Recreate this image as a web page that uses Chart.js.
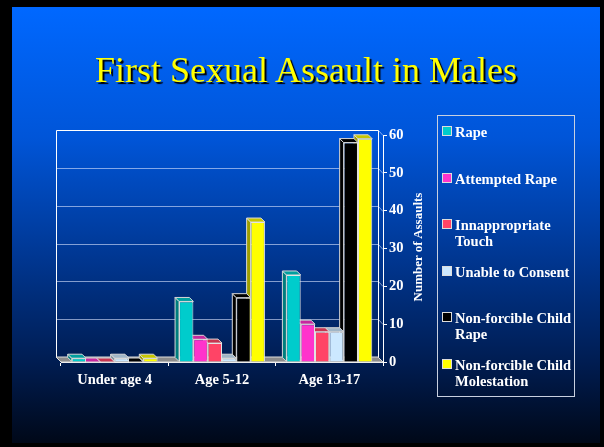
<!DOCTYPE html>
<html>
<head>
<meta charset="utf-8">
<title>First Sexual Assault in Males</title>
<script src="https://cdn.jsdelivr.net/npm/chart.js"></script>
<style>
  html, body { margin: 0; padding: 0; background: #000; }
  body { width: 604px; height: 447px; position: relative; overflow: hidden;
    font-family: "Liberation Serif", "Times New Roman", serif; }
  .slide { position: absolute; left: 12px; top: 7px; width: 588px; height: 436px;
    background: linear-gradient(to bottom, #0068ff 0%, #0055d8 30%, #003690 58%, #001c50 82%, #000818 100%); }
  #wrap { position: absolute; left: 0; top: 0; width: 604px; height: 447px; }
  h1 { position: absolute; left: 12px; top: 52px; width: 588px; margin: 0; text-align: center;
    font-size: 36px; line-height: 1; font-weight: normal; color: #ffff00;
    text-shadow: 2px 2px 1px #000; }
  #legend { position: absolute; left: 437px; top: 115px; width: 138px; height: 282px;
    box-sizing: border-box; border: 1px solid #c8d0e0; }
  #legend .item { position: absolute; left: 4px; width: 130px; }
  #legend .sw { position: absolute; left: 0; top: 2px; width: 8px; height: 8px; border: 1px solid #ddd; }
  #legend .tx { display: block; margin-left: 13px; width: 124px; color: #fff; font-weight: bold;
    font-size: 14.5px; line-height: 16px; }
  #yTitle { position: absolute; left: 418px; top: 247px; transform: translate(-50%, -50%) rotate(-90deg);
    white-space: nowrap; color: #fff; font-weight: bold; font-size: 13px; }
</style>
</head>
<body>
<div class="slide"></div>
<div id="wrap"><canvas id="chartCanvas"></canvas></div>
<h1>First Sexual Assault in Males</h1>
<div id="yTitle">Number of Assaults</div>
<div id="legend"></div>
<script>
const categories = ['Under age 4', 'Age 5-12', 'Age 13-17'];
const rape = [1, 16, 23];
const attemptedRape = [0, 6, 10];
const inappropriateTouch = [0, 5, 8];
const unableToConsent = [1, 1, 8];
const childRape = [0, 17, 58];
const childMolestation = [1, 37, 59];
const seriesNames = ['Rape', 'Attempted Rape', 'Innappropriate Touch', 'Unable to Consent',
  'Non-forcible Child Rape', 'Non-forcible Child Molestation'];
const yTicks = [0, 10, 20, 30, 40, 50, 60];

const colors = ['#00cccc', '#ff33cc', '#ff4466', '#cce8ff', '#000000', '#ffff00'];
const seriesData = [rape, attemptedRape, inappropriateTouch, unableToConsent, childRape, childMolestation];
const DEPTH = 4;   // bar depth
const WALL = 5;    // back wall offset

function shade(hex, f) {
  const n = parseInt(hex.slice(1), 16);
  const r = Math.round(((n >> 16) & 255) * f);
  const g = Math.round(((n >> 8) & 255) * f);
  const b = Math.round((n & 255) * f);
  return `rgb(${r},${g},${b})`;
}

function poly(ctx, pts, fill, stroke) {
  ctx.beginPath();
  ctx.moveTo(pts[0][0], pts[0][1]);
  for (let i = 1; i < pts.length; i++) ctx.lineTo(pts[i][0], pts[i][1]);
  ctx.closePath();
  ctx.fillStyle = fill;
  ctx.fill();
  if (stroke) { ctx.strokeStyle = stroke; ctx.lineWidth = 1; ctx.stroke(); }
}

function line(ctx, x0, y0, x1, y1) {
  ctx.beginPath();
  ctx.moveTo(x0, y0);
  ctx.lineTo(x1, y1);
  ctx.stroke();
}

// back wall, floor and the depth faces of the bars
const threeD = {
  id: 'threeD',
  beforeDatasetsDraw(chart) {
    const { ctx, chartArea: a, scales: { y } } = chart;
    const x0 = Math.round(a.left - WALL) + 0.5, x1 = Math.round(a.right - WALL) + 0.5;
    const top = Math.round(y.getPixelForValue(yTicks[yTicks.length - 1]) - WALL) + 0.5;
    const bottom = Math.round(y.getPixelForValue(0) - WALL) + 0.5;
    ctx.save();
    ctx.lineWidth = 1;
    ctx.strokeStyle = 'rgba(220,230,255,0.6)';
    yTicks.forEach(v => {
      const py = Math.round(y.getPixelForValue(v) - WALL) + 0.5;
      if (v > 0 && v < yTicks[yTicks.length - 1]) line(ctx, x0, py, x1, py);
      line(ctx, x1, py, a.right, py + WALL);
    });
    ctx.strokeStyle = '#ffffff';
    line(ctx, x0, top, x1, top);
    line(ctx, x0, top, x0, bottom);
    line(ctx, x1, top, x1, bottom);
    poly(ctx, [[a.left, a.bottom], [a.right, a.bottom], [a.right - WALL, a.bottom - WALL], [a.left - WALL, a.bottom - WALL]],
      '#8c8c8c', '#dddddd');
    ctx.restore();
  },
  beforeDatasetDraw(chart, args) {
    const { ctx } = chart;
    const color = chart.data.datasets[args.index].backgroundColor;
    ctx.save();
    args.meta.data.forEach(bar => {
      const { x, y, base, width } = bar.getProps(['x', 'y', 'base', 'width'], true);
      const l = x - width / 2, r = x + width / 2;
      poly(ctx, [[l, y], [l - DEPTH, y - DEPTH], [l - DEPTH, base - DEPTH], [l, base]], shade(color, 0.62), '#d8d8d8');
      poly(ctx, [[l, y], [r, y], [r - DEPTH, y - DEPTH], [l - DEPTH, y - DEPTH]], shade(color, 0.78), '#d8d8d8');
    });
    ctx.restore();
  }
};

const labelFont = { family: '"Liberation Serif", "Times New Roman", serif', size: 14.5, weight: 'bold' };

new Chart(document.getElementById('chartCanvas'), {
  type: 'bar',
  data: {
    labels: categories,
    datasets: seriesNames.map((name, i) => ({
      label: name,
      data: seriesData[i],
      backgroundColor: colors[i],
      borderColor: '#e4e4e4',
      borderWidth: 1,
      borderSkipped: 'start',
      categoryPercentage: 0.8,
      barPercentage: 1
    }))
  },
  options: {
    responsive: true,
    maintainAspectRatio: false,
    animation: false,
    layout: { padding: { left: 61, top: 135, right: 181, bottom: 55 } },
    plugins: { legend: { display: false }, tooltip: { enabled: false } },
    scales: {
      x: {
        grid: { drawOnChartArea: false, tickLength: 4, color: '#ffffff', offset: true },
        border: { color: '#ffffff' },
        ticks: { color: '#ffffff', font: labelFont, padding: 6 },
        afterFit: s => { s.height = 30; }
      },
      y: {
        position: 'right',
        min: 0,
        max: 60,
        grid: { drawOnChartArea: false, tickLength: 4, color: '#ffffff' },
        border: { color: '#ffffff' },
        ticks: { stepSize: 10, color: '#ffffff', font: labelFont, padding: 2 },
        afterFit: s => { s.width = 40; }
      }
    }
  },
  plugins: [threeD]
});

const legend = document.getElementById('legend');
seriesNames.forEach((name, i) => {
  const item = document.createElement('div');
  item.className = 'item';
  item.style.top = (8 + i * 46.6) + 'px';
  item.innerHTML = `<span class="sw" style="background:${colors[i]}"></span><span class="tx">${name}</span>`;
  legend.appendChild(item);
});
</script>
</body>
</html>
